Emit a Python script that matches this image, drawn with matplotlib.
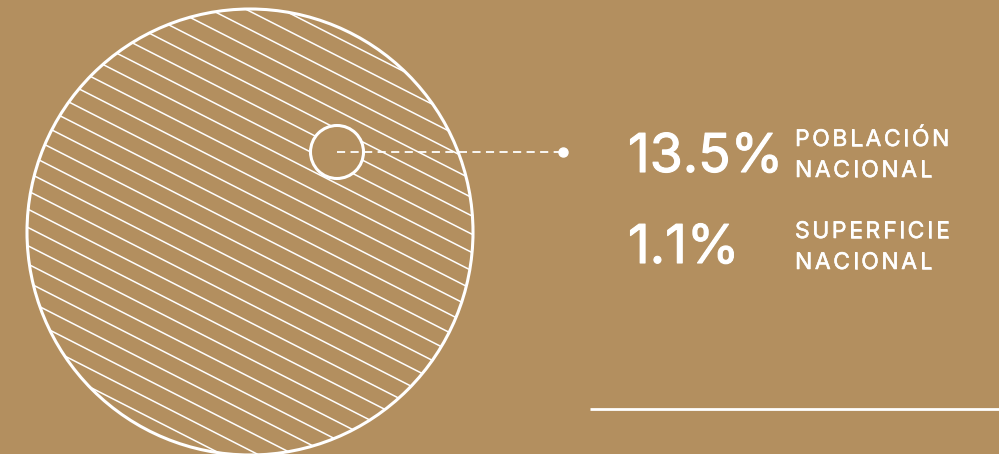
import numpy as np
import matplotlib.pyplot as plt
import matplotlib.patheffects as pe
from matplotlib.patches import Circle

plt.rcParams['font.family'] = ['Inter', 'DejaVu Sans']

# values shown in the graphic
percent_values = ['13.5%', '1.1%']
percent_labels = [['POBLACIÓN', 'NACIONAL'], ['SUPERFICIE', 'NACIONAL']]

bg = '#B38F5F'
fg = 'white'

fig = plt.figure(figsize=(9.99, 4.54), dpi=100, facecolor=bg)
ax = fig.add_axes([0, 0, 1, 1])
ax.set_xlim(0, 999)
ax.set_ylim(454, 0)
ax.set_aspect('equal')
ax.axis('off')
ax.set_facecolor(bg)
renderer = fig.canvas.get_renderer()


def tracked_text(x, y, s, track, **kw):
    # letter spacing: place each char after the width of the prefix + track px
    for i, ch in enumerate(s):
        dx = 0
        if i > 0:
            probe = ax.text(0, 0, s[:i] + '|', **kw)
            bar = ax.text(0, 0, '|', **kw)
            dx = (probe.get_window_extent(renderer).width
                  - bar.get_window_extent(renderer).width)
            probe.remove()
            bar.remove()
        ax.text(x + dx + i * track, y, ch, **kw)


# big circle (territory) with diagonal hatch
cx, cy, r = 250, 232, 223
big = Circle((cx, cy), r, facecolor='none', edgecolor=fg, lw=2.2, zorder=3)
ax.add_patch(big)
clip = Circle((cx, cy), r, transform=ax.transData)

ang = np.deg2rad(27)
d = np.array([np.cos(ang), np.sin(ang)])
n = np.array([-np.sin(ang), np.cos(ang)])
spacing = 16.3
for k in np.arange(-14, 15):
    off = k * spacing - 1
    p0 = np.array([cx, cy]) + n * off - d * 300
    p1 = np.array([cx, cy]) + n * off + d * 300
    ln, = ax.plot([p0[0], p1[0]], [p0[1], p1[1]], color=fg, lw=1.1, zorder=2)
    ln.set_clip_path(clip)

# small circle (population share marker)
sx, sy, sr = 337, 152, 26.5
ax.add_patch(Circle((sx, sy), sr, facecolor=bg, edgecolor=fg, lw=2.2, zorder=4))

# leader line
ax.plot([sx, 563], [sy, sy], color=fg, lw=1.3, dashes=(4.5, 3), zorder=5)
ax.plot([563], [sy], 'o', color=fg, ms=6.5, zorder=5)

# figures
big_fx = [pe.withStroke(linewidth=0.8, foreground=fg)]
lab_fx = [pe.withStroke(linewidth=0.4, foreground=fg)]
rows_y = [172, 263]
label_y = [[146, 177], [238, 269]]
for val, lab, y, ly in zip(percent_values, percent_labels, rows_y, label_y):
    ax.text(628, y, val, color=fg, fontsize=38.5, ha='left', va='baseline',
            path_effects=big_fx, zorder=6)
    for line, yy in zip(lab, ly):
        tracked_text(795, yy, line, 2.6, color=fg, fontsize=16.5,
                     ha='left', va='baseline', path_effects=lab_fx, zorder=6)

# bottom rule
ax.plot([590, 999], [409, 409], color=fg, lw=2, solid_capstyle='butt')

fig.savefig('out.png', dpi=100, facecolor=bg)
